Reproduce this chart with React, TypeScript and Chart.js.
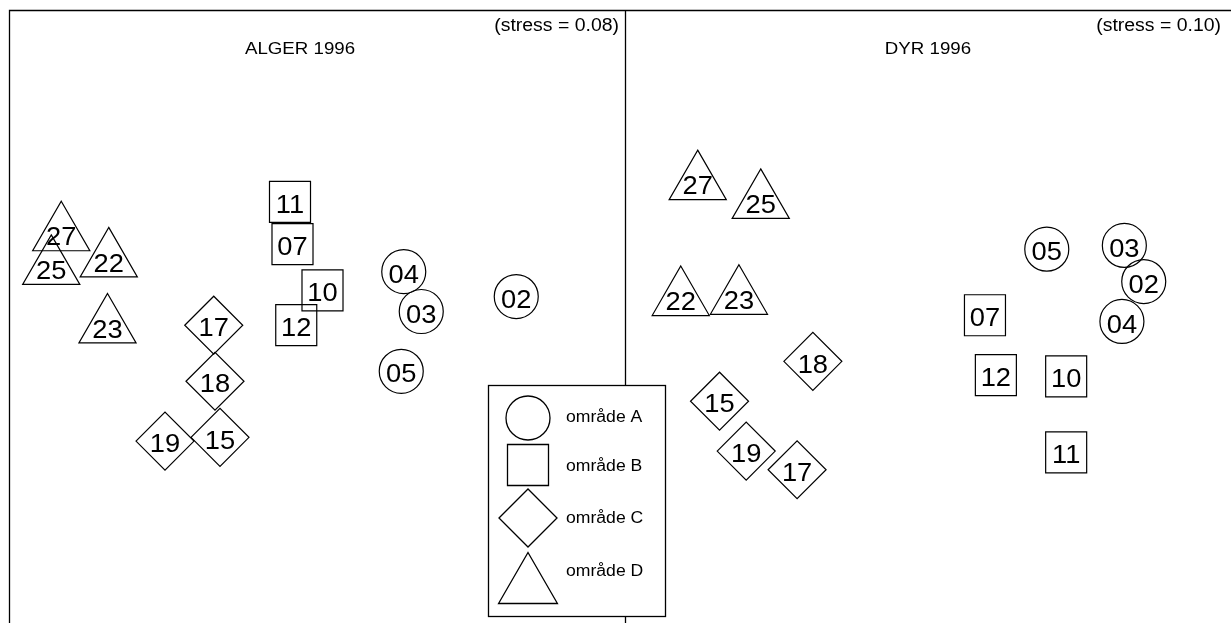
import React, { useEffect, useRef } from 'react';
import { Chart, registerables } from 'chart.js';
Chart.register(...registerables);

// ---- ALGER 1996 (MDS coordinates) ----
const algerA_labels = ['02', '03', '04', '05'];
const algerA_x = [1.63, 0.87, 0.73, 0.71];
const algerA_y = [0.12, 0.0, 0.32, -0.48];
const algerB_labels = ['07', '10', '11', '12'];
const algerB_x = [-0.16, 0.08, -0.18, -0.13];
const algerB_y = [0.54, 0.17, 0.88, -0.11];
const algerC_labels = ['15', '17', '18', '19'];
const algerC_x = [-0.74, -0.79, -0.78, -1.18];
const algerC_y = [-1.01, -0.11, -0.56, -1.04];
const algerD_labels = ['22', '23', '25', '27'];
const algerD_x = [-1.63, -1.64, -2.09, -2.01];
const algerD_y = [0.41, -0.12, 0.35, 0.62];

// ---- DYR 1996 (MDS coordinates) ----
const dyrA_labels = ['02', '03', '04', '05'];
const dyrA_x = [1.78, 1.62, 1.6, 0.98];
const dyrA_y = [0.24, 0.53, -0.08, 0.5];
const dyrB_labels = ['07', '10', '11', '12'];
const dyrB_x = [0.47, 1.14, 1.14, 0.56];
const dyrB_y = [-0.03, -0.52, -1.13, -0.51];
const dyrC_labels = ['15', '17', '18', '19'];
const dyrC_x = [-1.72, -1.08, -0.95, -1.5];
const dyrC_y = [-0.72, -1.27, -0.4, -1.12];
const dyrD_labels = ['22', '23', '25', '27'];
const dyrD_x = [-2.04, -1.56, -1.38, -1.9];
const dyrD_y = [0.1, 0.11, 0.88, 1.03];

const groupNames = ['område A', 'område B', 'område C', 'område D'];
const panelTitles = ['ALGER 1996', 'DYR 1996'];
const stressLabels = ['(stress = 0.08)', '(stress = 0.10)'];

const FONT = '"Liberation Sans", Arial, Helvetica, sans-serif';

function drawText(ctx: CanvasRenderingContext2D, text: string, x: number, y: number, size: number, align: CanvasTextAlign, sx = 1.1) {
  ctx.save();
  ctx.translate(x, y);
  ctx.scale(sx, 1);
  ctx.font = `${size}px ${FONT}`;
  ctx.textAlign = align;
  ctx.textBaseline = 'middle';
  ctx.fillStyle = '#000';
  ctx.fillText(text, 0, 0);
  ctx.restore();
}

const styles = [
  { pointStyle: 'circle', radius: 22 },
  { pointStyle: 'rect', radius: 29 },
  { pointStyle: 'rectRot', radius: 29 },
  { pointStyle: 'triangle', radius: 33 },
];

function makeDatasets(groups: { labels: string[]; xs: number[]; ys: number[] }[]) {
  return groups.map((g, i) => ({
    label: groupNames[i],
    labels: g.labels,
    data: g.xs.map((x, j) => ({ x, y: g.ys[j] })),
    pointStyle: styles[i].pointStyle,
    pointRadius: styles[i].radius,
    pointBorderWidth: 1.2,
    borderColor: '#000',
    backgroundColor: 'rgba(0,0,0,0)',
    showLine: false,
    clip: false as any,
  }));
}

const labelPlugin = {
  id: 'pointLabels',
  afterDatasetsDraw(chart: any) {
    const ctx = chart.ctx;
    chart.data.datasets.forEach((ds: any, i: number) => {
      const meta = chart.getDatasetMeta(i);
      meta.data.forEach((el: any, j: number) => {
        drawText(ctx, ds.labels[j], el.x, el.y + 4, 26, 'center', 1.05);
      });
    });
  },
};

function panelPlugin(title: string, stress: string, titleX: number, stressX: number, isLeft: boolean) {
  return {
    id: 'panel' + (isLeft ? 'L' : 'R'),
    beforeDatasetsDraw(chart: any) {
      const ctx = chart.ctx as CanvasRenderingContext2D;
      ctx.save();
      ctx.strokeStyle = '#000';
      ctx.lineWidth = 1.3;
      ctx.beginPath();
      if (isLeft) {
        ctx.moveTo(9.5, 623);
        ctx.lineTo(9.5, 10.5);
        ctx.lineTo(1231, 10.5);
        ctx.moveTo(625.5, 10.5);
        ctx.lineTo(625.5, 623);
      }
      ctx.stroke();
      ctx.restore();
      drawText(ctx, title, titleX, 49, 17, 'center');
      drawText(ctx, stress, stressX, 26, 18, 'right', 1.08);
    },
    afterDraw(chart: any) {
      if (!isLeft) return;
      const ctx = chart.ctx as CanvasRenderingContext2D;
      ctx.save();
      ctx.fillStyle = '#fff';
      ctx.fillRect(488, 385, 178, 232);
      ctx.strokeStyle = '#000';
      ctx.lineWidth = 1.3;
      ctx.strokeRect(488.5, 385.5, 177, 231);
      const cx = 528;
      ctx.beginPath();
      ctx.arc(cx, 418, 22, 0, Math.PI * 2);
      ctx.stroke();
      ctx.beginPath();
      ctx.rect(cx - 20.5, 465 - 20.5, 41, 41);
      ctx.stroke();
      ctx.beginPath();
      ctx.moveTo(cx - 29, 518);
      ctx.lineTo(cx, 518 - 29);
      ctx.lineTo(cx + 29, 518);
      ctx.lineTo(cx, 518 + 29);
      ctx.closePath();
      ctx.stroke();
      const tr = 34, ty = 586.5;
      ctx.beginPath();
      ctx.moveTo(cx, ty - tr);
      ctx.lineTo(cx + tr * Math.sin((2 * Math.PI) / 3), ty + tr / 2);
      ctx.lineTo(cx - tr * Math.sin((2 * Math.PI) / 3), ty + tr / 2);
      ctx.closePath();
      ctx.stroke();
      ctx.restore();
      const ys = [418, 467, 519, 572];
      groupNames.forEach((n, i) => drawText(ctx, n, 566, ys[i], 16, 'left'));
    },
  };
}

function baseOptions(rightPad: number) {
  return {
    responsive: false,
    animation: false as const,
    events: [] as any[],
    layout: { autoPadding: false, padding: { left: 0, top: 0, right: rightPad, bottom: 0 } },
    plugins: { legend: { display: false }, title: { display: false }, tooltip: { enabled: false } },
    scales: {
      x: { type: 'linear' as const, min: -2.5, max: 2.5, display: false },
      y: { type: 'linear' as const, min: -2.5, max: 2.5, display: false },
    },
  };
}

export default function App() {
  const leftRef = useRef<HTMLCanvasElement>(null);
  const rightRef = useRef<HTMLCanvasElement>(null);

  useEffect(() => {
    const left = new Chart(leftRef.current!, {
      type: 'scatter',
      data: {
        datasets: makeDatasets([
          { labels: algerA_labels, xs: algerA_x, ys: algerA_y },
          { labels: algerB_labels, xs: algerB_x, ys: algerB_y },
          { labels: algerC_labels, xs: algerC_x, ys: algerC_y },
          { labels: algerD_labels, xs: algerD_x, ys: algerD_y },
        ]) as any,
      },
      options: baseOptions(606) as any,
      plugins: [panelPlugin(panelTitles[0], stressLabels[0], 300, 619, true), labelPlugin],
    });
    const right = new Chart(rightRef.current!, {
      type: 'scatter',
      data: {
        datasets: makeDatasets([
          { labels: dyrA_labels, xs: dyrA_x, ys: dyrA_y },
          { labels: dyrB_labels, xs: dyrB_x, ys: dyrB_y },
          { labels: dyrC_labels, xs: dyrC_x, ys: dyrC_y },
          { labels: dyrD_labels, xs: dyrD_x, ys: dyrD_y },
        ]) as any,
      },
      options: baseOptions(0) as any,
      plugins: [panelPlugin(panelTitles[1], stressLabels[1], 303, 596, false), labelPlugin],
    });
    return () => {
      left.destroy();
      right.destroy();
    };
  }, []);

  return (
    <div style={{ position: 'absolute', left: 0, top: 0, width: 1231, height: 623, background: '#fff', overflow: 'hidden' }}>
      <canvas ref={leftRef} width={1231} height={623} style={{ position: 'absolute', left: 0, top: 0 }} />
      <canvas ref={rightRef} width={606} height={623} style={{ position: 'absolute', left: 625, top: 0 }} />
    </div>
  );
}
